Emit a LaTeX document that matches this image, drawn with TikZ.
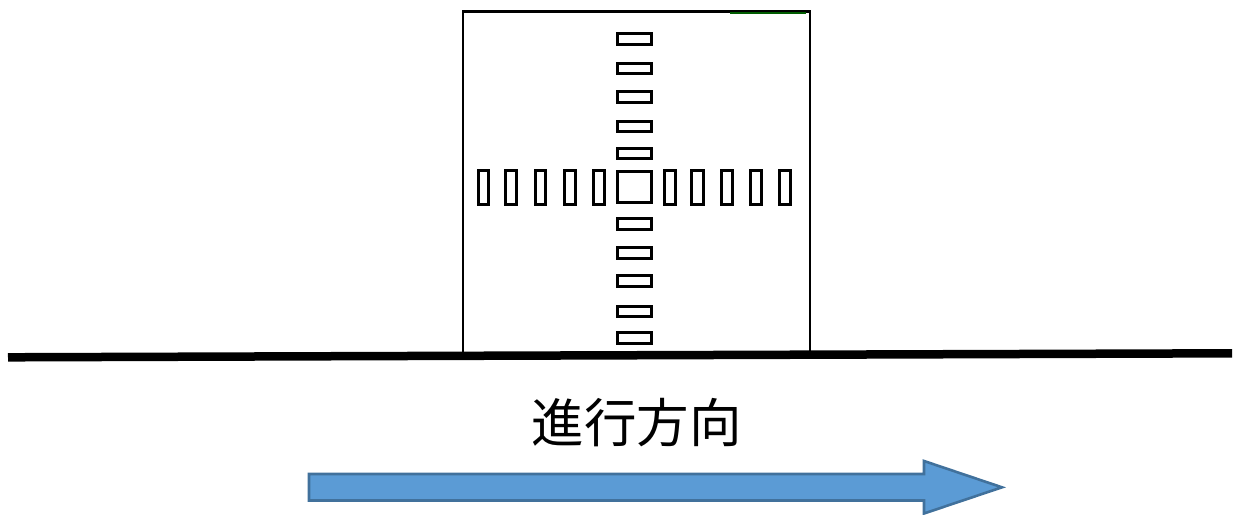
\documentclass[tikz,border=0pt]{standalone}
\usepackage{fontspec}
\newfontfamily\cjk{Noto Sans CJK JP}[Scale=1]
\definecolor{arrowfill}{HTML}{5B9BD5}
\definecolor{arrowedge}{HTML}{41719C}
\begin{document}
\begin{tikzpicture}[x=1pt,y=-1pt,
  hbar/.style={draw=black,line width=3pt,fill=white},
  vbar/.style={draw=black,line width=3pt,fill=white}]
\useasboundingbox (0,0) rectangle (1233,514);
\draw[black,line width=2.6pt,fill=white] (463,11.3) rectangle (810,354);
\draw[black!40!green!60!black,line width=1.4pt] (730,12.8) -- (806,12.8);
% horizontal bars
\foreach \a/\b in {33.5/44,63/73,91.5/102,121.5/131.5,148.3/158.7,218/229,247/258,275.6/286.7,306/316,332.6/343.4}
  \draw[hbar] (617,\a) rectangle (651.5,\b);
% centre square
\draw[black,line width=2.6pt] (617.3,171.7) rectangle (651.7,202.3);
% vertical bars
\foreach \a/\b in {478.5/488.5,505/516.5,535/545.5,564/575,593/604,664.5/675,691/703,721/732,750/761,779/790.5}
  \draw[vbar] (\a,170.3) rectangle (\b,204.4);
% ground
\draw[black,line width=8.5pt] (8,357.3) -- (1232,353.3);
% label
\node[inner sep=0pt,font=\cjk\fontsize{52.5}{52.5}\selectfont] (lbl) at (636.5,423) {進行方向};
% arrow
\draw[arrowedge,fill=arrowfill,line width=2.6pt,line join=miter]
  (309,474) -- (924,474) -- (924,461) -- (1002,487.3) -- (924,513.5) -- (924,500.5) -- (309,500.5) -- cycle;
\end{tikzpicture}
\end{document}
